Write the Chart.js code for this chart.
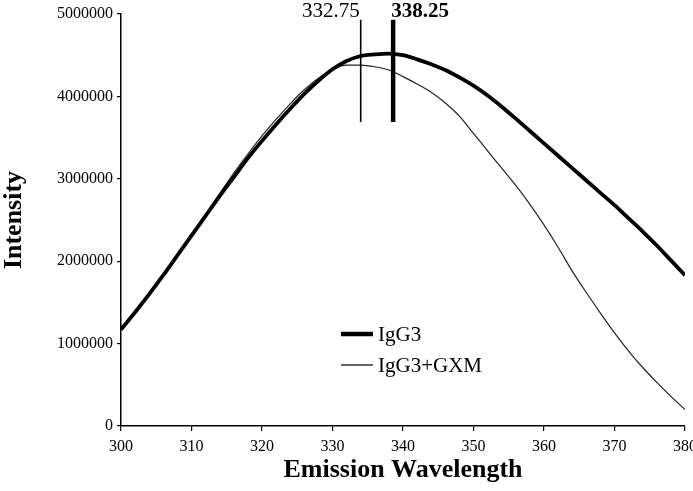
<!DOCTYPE html>
<html>
<head>
<meta charset="utf-8">
<script src="https://cdn.jsdelivr.net/npm/chart.js@4.4.1/dist/chart.umd.min.js"></script>
<style>
  html, body { margin: 0; padding: 0; background: #fff; }
  #wrap { width: 693px; height: 491px; position: relative; }
</style>
</head>
<body>
<div id="wrap"><canvas id="c" width="693" height="491"></canvas></div>
<script>
// Wavelength (nm)
const wavelengths = [300,302,304,306,308,310,312,314,316,318,320,322,324,326,328,330,332,334,336,338,340,
                     342,344,346,348,350,352,354,356,358,360,362,364,366,368,370,372,374,376,378,380];
// Intensity, IgG3
const igg3 = [1170000,1380000,1600000,1830000,2070000,2310000,2550000,2790000,3020000,3250000,3460000,
              3660000,3850000,4030000,4190000,4330000,4430000,4490000,4510000,4520000,4500000,
              4450000,4390000,4320000,4230000,4130000,4010000,3875000,3730000,3580000,3430000,
              3280000,3130000,2980000,2830000,2680000,2520000,2360000,2190000,2010000,1830000];
// Intensity, IgG3+GXM
const igg3gxm = [1170000,1390000,1610000,1840000,2080000,2320000,2570000,2820000,3070000,3300000,3520000,
                 3720000,3910000,4080000,4220000,4330000,4380000,4380000,4360000,4320000,4240000,
                 4150000,4050000,3920000,3760000,3550000,3340000,3130000,2920000,2690000,2440000,
                 2170000,1880000,1620000,1370000,1130000,910000,710000,530000,360000,200000];
const seriesNames = ["IgG3", "IgG3+GXM"];
const xTicks = [300,310,320,330,340,350,360,370,380];
const yTicks = [0,1000000,2000000,3000000,4000000,5000000];
// Peak markers: drawn position, label, line span
const markerX = [334.0, 338.6];
const markerLabels = ["332.75", "338.25"];
const markerSpan = [3690000, 4930000];

const serif = "'Liberation Serif', 'Times New Roman', serif";

const toPts = (ys) => wavelengths.map((w, i) => ({x: w, y: ys[i]}));

const overlay = {
  id: 'overlay',
  afterDatasetsDraw(chart) {
    const {ctx, chartArea, scales: {x, y}} = chart;
    ctx.save();
    // peak marker lines
    const widths = [1.6, 4.5];
    for (let i = 0; i < markerX.length; i++) {
      const px = x.getPixelForValue(markerX[i]);
      ctx.beginPath();
      ctx.lineWidth = widths[i];
      ctx.strokeStyle = '#000';
      ctx.moveTo(px, y.getPixelForValue(markerSpan[1]));
      ctx.lineTo(px, y.getPixelForValue(markerSpan[0]));
      ctx.stroke();
    }
    // marker labels
    ctx.fillStyle = '#000';
    ctx.textBaseline = 'alphabetic';
    ctx.font = "21px " + serif;
    ctx.textAlign = 'right';
    ctx.fillText(markerLabels[0], x.getPixelForValue(markerX[0]) - 1, 17);
    ctx.font = "bold 21px " + serif;
    ctx.textAlign = 'left';
    ctx.fillText(markerLabels[1], x.getPixelForValue(markerX[1]) - 2, 17);

    // legend
    const lx = chartArea.left + 220, lw = 32;
    const rows = [chartArea.top + 320, chartArea.top + 351];
    const lws = [4.5, 1.2];
    ctx.font = "21px " + serif;
    ctx.textBaseline = 'middle';
    for (let i = 0; i < 2; i++) {
      ctx.beginPath();
      ctx.lineWidth = lws[i];
      ctx.moveTo(lx, rows[i]);
      ctx.lineTo(lx + lw, rows[i]);
      ctx.stroke();
      ctx.fillText(seriesNames[i], lx + lw + 5, rows[i] + 1);
    }
    ctx.restore();
  }
};

new Chart(document.getElementById('c'), {
  type: 'line',
  data: {
    datasets: [
      { label: seriesNames[0], data: toPts(igg3), borderColor: '#000', borderWidth: 3.8,
        pointRadius: 0, cubicInterpolationMode: 'monotone', fill: false },
      { label: seriesNames[1], data: toPts(igg3gxm), borderColor: '#222', borderWidth: 1.2,
        pointRadius: 0, cubicInterpolationMode: 'monotone', fill: false }
    ]
  },
  options: {
    responsive: false,
    animation: false,
    devicePixelRatio: 1,
    layout: { padding: { top: 14, right: 8, left: 0, bottom: 0 } },
    plugins: { legend: { display: false }, tooltip: { enabled: false } },
    scales: {
      x: {
        type: 'linear', min: 300, max: 380,
        afterBuildTicks: (s) => { s.ticks = xTicks.map(v => ({value: v})); },
        afterFit: (s) => { s.height = 65; s.paddingRight = 0; s.paddingLeft = 0; },
        border: { color: '#000', width: 1.5 },
        grid: { display: true, drawOnChartArea: false, drawTicks: true, tickLength: 5, color: '#000', lineWidth: 1.2 },
        ticks: { color: '#000', font: { family: serif, size: 16 }, padding: 6, maxRotation: 0, autoSkip: false },
        title: { display: true, text: 'Emission Wavelength', color: '#000',
                 font: { family: serif, size: 26, weight: 'bold', lineHeight: 1 },
                 padding: { top: 0, bottom: 8 } }
      },
      y: {
        min: 0, max: 5000000,
        afterBuildTicks: (s) => { s.ticks = yTicks.map(v => ({value: v})); },
        afterFit: (s) => { s.width = 121; },
        border: { color: '#000', width: 1.5 },
        grid: { display: true, drawOnChartArea: false, drawTicks: true, tickLength: 4, color: '#000', lineWidth: 1.2 },
        ticks: { color: '#000', font: { family: serif, size: 16 }, padding: 4, autoSkip: false,
                 callback: (v) => String(v) },
        title: { display: true, text: 'Intensity', color: '#000',
                 font: { family: serif, size: 26, weight: 'bold', lineHeight: 1 },
                 padding: { top: 1, bottom: 0 } }
      }
    }
  },
  plugins: [overlay]
});
</script>
</body>
</html>
